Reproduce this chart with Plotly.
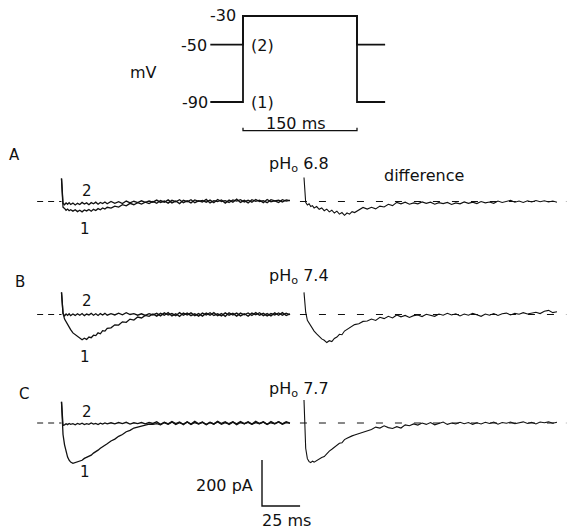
import plotly.graph_objects as go

# ---------------- data ----------------
# voltage protocol (schematic)
pulse_time_ms = [-43, 0, 0, 150, 150, 187]
v_protocol_1 = [-90, -90, -30, -30, -90, -90]   # (1) holding -90 mV
v_protocol_2 = [-50, -50, -30, -30, -50, -50]   # (2) holding -50 mV
mv_tick_labels = ["-30", "-50", "-90"]
pulse_duration_ms = 150

# sampling times of the current records (ms from pulse onset)
time_ms = [0, 0.4, 1, 2, 3, 4, 5, 6,
           7.5, 9, 10.5, 12, 13.5, 15, 16.5, 18, 19.5, 21, 22.5, 24, 25.5, 27, 28.5, 30,
           32.5, 35, 37.5, 40, 42.5, 45, 47.5, 50, 52.5, 55, 57.5, 60,
           62.5, 65, 67.5, 70, 72.5, 75, 77.5, 80, 82.5, 85, 87.5, 90,
           92.5, 95, 97.5, 100, 102.5, 105, 107.5, 110, 112.5, 115, 117.5, 120,
           122.5, 125, 127.5, 130, 132.5, 135, 137.5, 140, 142.5, 145, 147.5, 150]

# currents in pA (trace 1: from -90 mV, trace 2: from -50 mV)
A1 = [100, 10, -25, -30, -38, -33, -40, -36,
      -42, -36, -44, -38, -45, -37, -41, -35, -42, -34, -39, -31, -36, -28, -33, -25,
      -29, -20, -24, -14, -19, -8, -14, -5, -11, -3, -9, 0,
      -8, 4, -3, 7, -6, 2, -9, 5, -1, 8, -5, 3,
      -2, 9, -6, 4, 0, 7, -7, 6, -3, 10, -4, 5,
      -6, 8, 1, 6, -5, 9, -1, 3, -4, 8, 2, 5]
A2 = [100, 15, -8, -14, -6, -12, -5, -13,
      -7, -15, -8, -13, -4, -11, -6, -14, -5, -10, -3, -12, -4, -9, -2, -10,
      0, -8, -1, -9, 2, -6, 1, -5, 3, -4, 2, -3,
      6, -4, 2, -7, 5, -1, 8, -5, 3, -6, 7, 1,
      5, -3, 6, -5, 9, 0, 4, -4, 7, 2, 8, -2,
      6, -3, 9, 0, 4, -5, 8, 3, 6, -2, 7, 4]
B1 = [96, 40, 5, -20, -32, -45, -58, -66,
      -80, -88, -98, -104, -110, -103, -108, -98, -101, -90, -92, -80, -84, -70, -72, -60,
      -58, -45, -46, -32, -34, -20, -24, -11, -15, -4, -8, 2,
      -7, 5, -3, 8, -6, 3, -8, 6, -2, 7, -5, 4,
      -7, 6, -3, 8, -5, 4, -8, 7, -2, 6, -6, 3,
      -7, 6, -1, 8, -5, 4, -6, 7, -3, 8, -4, 3]
B2 = [96, 30, 5, -6, 2, -4, 3, -5,
      2, -4, 3, -3, 4, -5, 2, -2, 5, -3, 3, -4, 4, -2, 5, -3,
      4, -2, 6, -1, 8, 0, 4, -3, 3, -4, 4, -2,
      5, -6, 7, -2, 4, -5, 8, -3, 6, -5, 3, -7,
      6, -2, 8, -4, 3, -6, 7, -3, 5, -7, 6, -1,
      7, -4, 8, -3, 5, -6, 4, -2, 7, -3, 6, -1]
C1 = [92, 20, -50, -95, -125, -148, -162, -170,
      -175, -171, -168, -163, -162, -154, -150, -143, -140, -131, -126, -118, -110, -104, -96, -90,
      -78, -70, -58, -50, -38, -32, -22, -18, -12, -10, -5, -6,
      -3, -8, 2, -6, 4, -7, 1, -5, 4, -7, 2, -5,
      3, -8, 2, -4, 5, -6, 1, -3, 5, -7, 2, -4,
      3, -6, 2, -3, 5, -6, 1, -4, 5, -5, 2, -2]
C2 = [92, 25, -10, -8, -3, -7, -2, -6,
      -3, -8, -2, -6, -1, -7, -3, -6, 0, -5, -2, -7, -1, -5, 0, -4,
      1, -4, 2, -3, 3, -5, 1, -3, 2, -4, 2, -2,
      5, -6, 3, -4, 6, -3, 4, -7, 5, -5, 7, -3,
      4, -6, 3, -5, 7, -2, 5, -6, 4, -4, 6, -3,
      5, -5, 7, -2, 4, -6, 6, -3, 5, -4, 6, 0]
# difference records (1 - 2)
DA = [104, 40, -4, -15, -10, -22, -18, -28,
      -22, -34, -28, -40, -33, -45, -38, -50, -42, -55, -48, -60, -50, -55, -44, -48,
      -36, -26, -33, -25, -32, -20, -24, -12, -18, -4, -10, -3,
      -12, -6, -10, -2, -8, -3, -12, -5, -9, -4, -13, -6,
      -10, -2, -8, -3, -9, 0, -6, -2, -8, 2, -4, 0,
      5, -3, 2, -4, 3, -2, 4, -1, 3, -2, 2, -3]
DB = [96, 50, 10, -25, -38, -52, -62, -72,
      -84, -95, -106, -112, -122, -114, -118, -104, -98, -86, -88, -72, -64, -58, -52, -44,
      -40, -30, -28, -20, -26, -12, -18, -8, -15, -2, -10, -4,
      -13, -5, -2, -9, 1, -4, -8, 2, -3, 5, -2, 3,
      -6, 2, -3, 5, -1, -8, 2, -3, 4, -4, 3, 6,
      -2, 5, 1, 8, 2, 6, 10, 4, 14, 18, 8, 12]
DC = [100, 30, -110, -155, -168, -172, -166, -170,
      -162, -158, -150, -146, -132, -122, -114, -104, -98, -88, -86, -72, -66, -60, -56, -52,
      -46, -40, -36, -28, -18, -22, -12, -20, -24, -16, -22, -8,
      -12, -4, -9, 0, -6, 2, -8, -2, 4, -6, 0, -4,
      3, -3, 2, -6, 1, -4, 3, -2, 4, -5, 2, -1,
      4, -3, 2, 5, -2, 3, -4, 4, 1, 5, -1, 3]

panel_letters = ["A", "B", "C"]
ph_values = ["6.8", "7.4", "7.7"]
scale_current_pA = 200
scale_time_ms = 25

# ---------------- layout helpers (pixel -> paper) ----------------
W, H = 567, 529
FONT = "DejaVu Sans, sans-serif"
INK = "#111111"
FS = 16


def fx(p):
    return p / W


def fy(p):
    return 1 - p / H


fig = go.Figure()
layout_axes = {}
annotations = []


def add_axes(idx, xdom_px, ydom_px, xrange, yrange):
    xn = "xaxis" if idx == 1 else f"xaxis{idx}"
    yn = "yaxis" if idx == 1 else f"yaxis{idx}"
    ref = "" if idx == 1 else str(idx)
    layout_axes[xn] = dict(domain=[fx(xdom_px[0]), fx(xdom_px[1])], range=xrange,
                           visible=False, anchor="y" + ref, fixedrange=True)
    layout_axes[yn] = dict(domain=[fy(ydom_px[1]), fy(ydom_px[0])], range=yrange,
                           visible=False, anchor="x" + ref, fixedrange=True)
    return "x" + ref, "y" + ref


def line(xa, ya, x, y, width=1.1, dash=None, color=INK):
    fig.add_trace(go.Scatter(x=x, y=y, xaxis=xa, yaxis=ya, mode="lines",
                             line=dict(color=color, width=width, dash=dash),
                             hoverinfo="skip", showlegend=False, cliponaxis=False))


def text(s, x, y, size=FS, xanchor="center"):
    annotations.append(dict(text=s, x=fx(x), y=fy(y), xref="paper", yref="paper",
                            showarrow=False, xanchor=xanchor, yanchor="middle",
                            font=dict(family=FONT, size=size, color=INK)))


# ---- voltage protocol ----
p_t0, p_ms = 243, 114 / 150      # pixel of pulse onset, px per ms
p_v30, p_mv = 16, 86 / 60        # pixel of -30 mV, px per mV
xa, ya = add_axes(1, (120, 420), (2, 145),
                  [(120 - p_t0) / p_ms, (420 - p_t0) / p_ms],
                  [-30 - (145 - p_v30) / p_mv, -30 + (p_v30 - 2) / p_mv])
line(xa, ya, pulse_time_ms, v_protocol_1, width=1.8)
line(xa, ya, pulse_time_ms, v_protocol_2, width=1.8)
brk_y = -110
line(xa, ya, [0, 0, pulse_duration_ms, pulse_duration_ms],
     [brk_y + 2, brk_y, brk_y, brk_y + 2], width=1.3)
text(mv_tick_labels[0], 238, 16, xanchor="right")
text(mv_tick_labels[1], 209, 45, xanchor="right")
text(mv_tick_labels[2], 210, 102, xanchor="right")
text("mV", 143, 73)
text("(2)", 249, 45, xanchor="left")
text("(1)", 249, 102, xanchor="left")
text(f"{pulse_duration_ms} ms", 296, 123)

# ---- current records ----
pa_px = 46 / 200                    # px per pA
l_t0, l_ms = 61.5, (290 - 61.5) / 150
r_t0, r_ms = 304, (557 - 304) / 150
rows = [
    dict(base=201.5, dom=(150, 250), raw1=A1, raw2=A2, diff=DA,
         letter=(14.5, 155), lab2=(87, 191), lab1=(85, 229), ph=164),
    dict(base=314.5, dom=(262, 362), raw1=B1, raw2=B2, diff=DB,
         letter=(20, 282), lab2=(87, 301), lab1=(85, 357), ph=276),
    dict(base=423, dom=(372, 515), raw1=C1, raw2=C2, diff=DC,
         letter=(23.5, 394), lab2=(87, 412), lab1=(85, 472), ph=389),
]

idx = 2
for i, r in enumerate(rows):
    yr = [-(r["dom"][1] - r["base"]) / pa_px, (r["base"] - r["dom"][0]) / pa_px]
    # left: raw records
    xl, yl = add_axes(idx, (10, 310), r["dom"],
                      [(10 - l_t0) / l_ms, (310 - l_t0) / l_ms], yr)
    idx += 1
    line(xl, yl, [-16, 0], [0, 0], width=1.0, dash="6px,5px")
    line(xl, yl, time_ms, r["raw2"], width=1.3)
    line(xl, yl, time_ms, r["raw1"], width=1.3)
    # right: difference record
    xr, yrr = add_axes(idx, (295, 567), r["dom"],
                       [(295 - r_t0) / r_ms, (567 - r_t0) / r_ms], yr)
    idx += 1
    line(xr, yrr, [-2.4, 155.5], [0, 0], width=1.0, dash="7px,12px")
    line(xr, yrr, time_ms, r["diff"], width=1.1)

    text(panel_letters[i], *r["letter"], size=15)
    text("2", *r["lab2"], size=15)
    text("1", *r["lab1"], size=15)
    text(f"pH<sub>o</sub> {ph_values[i]}", 267, r["ph"], xanchor="left")

    if i == 2:
        # calibration bars in the C raw-record axes
        sx0 = (262 - l_t0) / l_ms
        sy0 = -(506 - r["base"]) / pa_px
        line(xl, yl, [sx0, sx0, sx0 + scale_time_ms],
             [sy0 + scale_current_pA, sy0, sy0], width=1.4)

text("difference", 424, 175)
text(f"{scale_current_pA} pA", 255, 485, xanchor="right")
text(f"{scale_time_ms} ms", 286, 520)

fig.update_layout(width=W, height=H, margin=dict(l=0, r=0, t=0, b=0),
                  paper_bgcolor="white", plot_bgcolor="rgba(0,0,0,0)",
                  showlegend=False, annotations=annotations, **layout_axes)

fig.write_html("out.html", config={"displayModeBar": False, "staticPlot": True},
               post_script="document.body.style.margin='0';document.body.style.overflow='hidden';")
